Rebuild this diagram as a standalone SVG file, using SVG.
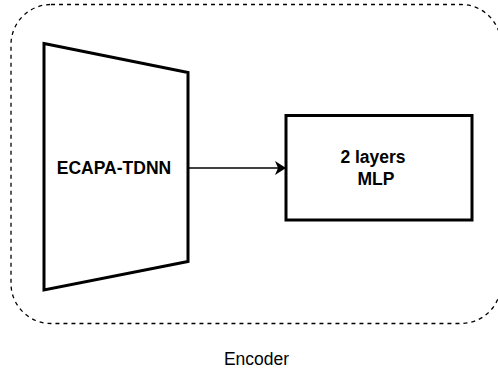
<svg xmlns="http://www.w3.org/2000/svg" width="498" height="371" viewBox="0 0 498 371">
  <style>
    .frame { fill: none; stroke: #000; stroke-width: 1.3; stroke-dasharray: 4 4; }
    .block { fill: #fff; stroke: #000; stroke-width: 3; stroke-linejoin: miter; }
    .edge { fill: none; stroke: #000; stroke-width: 1.3; }
    .lbl { font-family: "Liberation Sans", Arial, sans-serif; font-size: 17.5px; fill: #000; text-anchor: middle; }
    .bold { font-weight: bold; }
  </style>
  <defs>
    <marker id="arrow" viewBox="0 0 12 14" refX="11" refY="7" markerWidth="12" markerHeight="14" markerUnits="userSpaceOnUse" orient="auto">
      <path d="M0,0 L11,7 L0,14 L3,7 Z" fill="#000"/>
    </marker>
  </defs>

  <rect fill="#fff" width="498" height="371"/>

  <!-- dashed container -->
  <g id="encoder">
    <rect class="frame" x="11" y="4.5" width="490" height="319" rx="40" ry="40"/>
    <text class="lbl" x="256.5" y="365">Encoder</text>
  </g>

  <!-- connectors -->
  <g id="connectors">
    <line class="edge" x1="188" y1="168" x2="286" y2="168" marker-end="url(#arrow)"/>
  </g>

  <g id="ecapa">
    <polygon class="block" points="44,43.5 188,72.5 188,261.5 44,290"/>
    <text class="lbl bold" x="114" y="174">ECAPA-TDNN</text>
  </g>

  <g id="mlp">
    <rect class="block" x="286" y="115.5" width="186" height="104.5"/>
    <text class="lbl bold" x="373" y="163.3">2 layers</text>
    <text class="lbl bold" x="376" y="185">MLP</text>
  </g>
</svg>
